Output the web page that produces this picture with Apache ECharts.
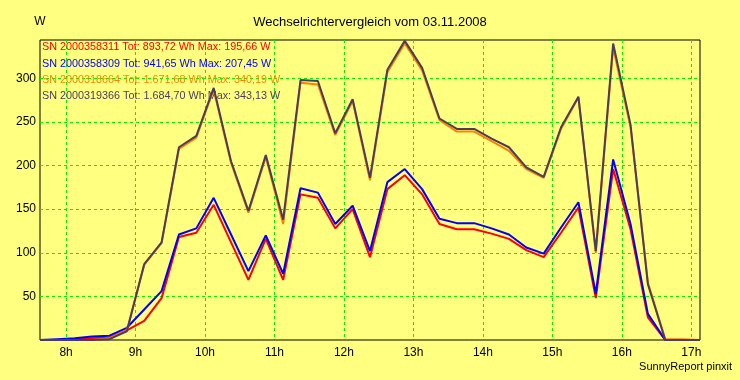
<!DOCTYPE html>
<html><head><meta charset="utf-8">
<script src="https://cdn.jsdelivr.net/npm/echarts@6/dist/echarts.min.js"></script>
<style>html,body{margin:0;padding:0;background:#ffff80}#c{width:740px;height:380px}</style>
</head><body><div id="c"></div>
<script>
// time of each 15-min average (decimal hours)
const times = [7.625, 7.875, 8.125, 8.375, 8.625, 8.875, 9.125, 9.375, 9.625, 9.875,
  10.125, 10.375, 10.625, 10.875, 11.125, 11.375, 11.625, 11.875, 12.125, 12.375,
  12.625, 12.875, 13.125, 13.375, 13.625, 13.875, 14.125, 14.375, 14.625, 14.875,
  15.125, 15.375, 15.625, 15.875, 16.125, 16.375, 16.625, 16.875, 17.125];

const seriesNames = [
  'SN 2000358311 Tot: 893,72 Wh Max: 195,66 W',
  'SN 2000358309 Tot: 941,65 Wh Max: 207,45 W',
  'SN 2000318664 Tot: 1.671,68 Wh Max: 340,19 W',
  'SN 2000319366 Tot: 1.684,70 Wh Max: 343,13 W'
];

const red = [0, 0, 1, 2, 3, 11, 22, 48, 118, 123, 155, 112, 69, 116, 69, 167, 163, 128, 150, 95,
  173, 189, 167, 133, 127, 127, 122, 116, 103, 95, 123, 152, 48, 196, 127, 26, 0, 0, 0];
const blue = [0, 1, 2, 4, 5, 14, 35, 56, 121, 128, 163, 121, 79, 120, 76, 174, 169, 133, 154, 102,
  181, 196, 173, 139, 134, 134, 128, 121, 106, 99, 129, 158, 53, 207, 133, 30, 0, 0, 0];
const orange = [0, 0, 0, 0, 2, 11, 86, 111, 219, 232, 287, 203, 146, 210, 133, 295, 293, 235, 274, 183,
  307, 340, 309, 252, 239, 239, 228, 217, 196, 186, 242, 278, 100, 335, 244, 66, 1, 1, 0];
const purple = [0, 0, 0, 0, 1, 10, 87, 112, 221, 234, 289, 205, 148, 212, 138, 298, 297, 237, 276, 186,
  310, 343, 312, 254, 242, 242, 231, 221, 198, 187, 244, 279, 102, 340, 247, 64, 0, 0, 0];

const hourTicks = [8, 9, 10, 11, 12, 13, 14, 15, 16, 17];
const yTicks = [50, 100, 150, 200, 250, 300];

const colors = ['#ff0000', '#0000ff', '#ff8000', '#4b3c5e'];
const values = [red, blue, orange, purple];
const FONT = '"Liberation Sans", Arial, sans-serif';

const chart = echarts.init(document.getElementById('c'));
chart.setOption({
  animation: false,
  backgroundColor: '#ffff80',
  textStyle: { fontFamily: FONT },
  title: [
    { text: 'Wechselrichtervergleich vom 03.11.2008', left: 'center', top: 11,
      textStyle: { fontSize: 13, fontWeight: 'normal', color: '#000', fontFamily: FONT } },
    { text: 'SunnyReport pinxit', right: 3, bottom: 3,
      textStyle: { fontSize: 11, fontWeight: 'normal', color: '#000', fontFamily: FONT } }
  ],
  legend: {
    orient: 'vertical', left: 37, top: 41, padding: 0, itemGap: 4,
    itemWidth: 0, itemHeight: 0, icon: 'rect', selectedMode: false,
    data: seriesNames.map((n, i) => ({ name: n, textStyle: { color: colors[i] } })),
    textStyle: { fontSize: 10.8, fontFamily: FONT, lineHeight: 12.4, padding: 0 }
  },
  grid: { left: 40, right: 40, top: 40, bottom: 40, show: true, backgroundColor: '#ffff80',
    borderColor: '#000', borderWidth: 1 },
  xAxis: {
    type: 'value', min: 7.625, max: 17.125,
    axisLine: { show: false },
    axisTick: { show: false, customValues: hourTicks },
    axisLabel: { customValues: hourTicks, formatter: v => v + 'h', color: '#000', fontSize: 12, margin: 7, fontFamily: FONT },
    splitLine: { show: true, lineStyle: { color: '#00f000', type: [3, 3], width: 1 } }
  },
  yAxis: {
    type: 'value', min: 0, max: 344,
    name: 'W', nameLocation: 'end', nameGap: 12,
    nameTextStyle: { color: '#000', fontSize: 12, fontFamily: FONT },
    axisLine: { show: false },
    axisTick: { show: false, customValues: yTicks },
    axisLabel: { customValues: yTicks, color: '#000', fontSize: 12, margin: 4, fontFamily: FONT },
    splitLine: { show: true, lineStyle: { color: '#00f000', type: [3, 3], width: 1 } }
  },
  series: values.map((arr, i) => ({
    name: seriesNames[i], type: 'line', showSymbol: false, silent: true,
    color: colors[i],
    lineStyle: { color: colors[i], width: 2 },
    data: arr.map((v, k) => [times[k], v]),
    z: 2 + i
  }))
});
</script>
</body></html>
